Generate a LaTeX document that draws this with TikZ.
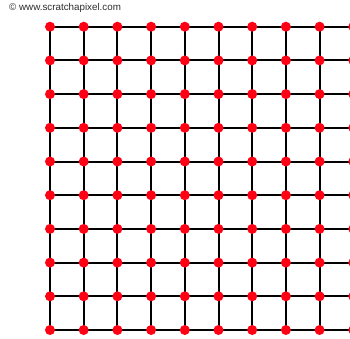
\documentclass[tikz,border=0pt]{standalone}
\usepackage{fontspec}
\setmainfont{Liberation Sans}
\definecolor{dotred}{RGB}{255,0,20}
\definecolor{credit}{RGB}{45,45,45}
\tikzset{
  gridline/.style={black, line width=2pt},
  gdot/.style={circle, fill=dotred, inner sep=0pt, minimum size=10pt},
}
\begin{document}
\begin{tikzpicture}[x=1pt,y=-1pt]
\useasboundingbox (0,0) rectangle (350,338);
\clip (0,0) rectangle (350,338);
\fill[white] (0,0) rectangle (350,338);
\node[anchor=base west, inner sep=0pt, text=credit, font=\fontsize{9.8}{11}\selectfont] (credit) at (9,10.5) {© www.scratchapixel.com};
\foreach \i in {0,...,9}{
  \foreach \j in {0,...,9}{
    \coordinate (c-\i-\j) at ({50+33.7*\i},{26.7+33.7*\j});
  }
}
\foreach \k in {0,...,9}{
  \draw[gridline] (c-0-\k) -- (c-9-\k);
  \draw[gridline] (c-\k-0) -- (c-\k-9);
}
\foreach \i in {0,...,9}{
  \foreach \j in {0,...,9}{
    \node[gdot] (p-\i-\j) at (c-\i-\j) {};
  }
}
\end{tikzpicture}
\end{document}
